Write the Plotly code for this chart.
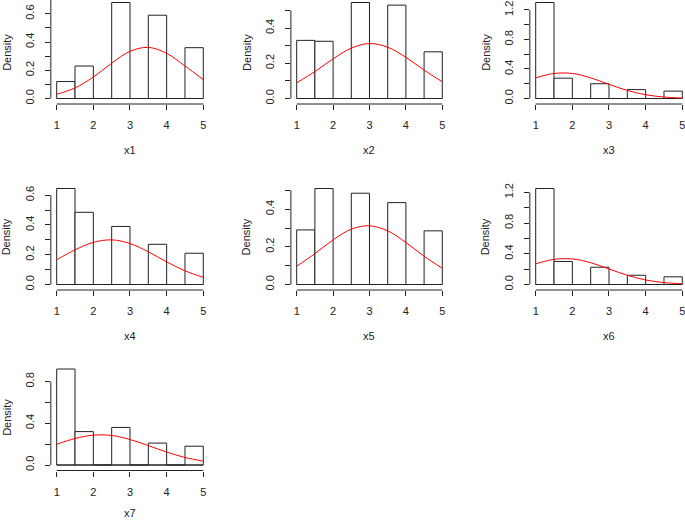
import plotly.graph_objects as go

# ---------------- data ----------------
bin_edges = [1.0, 1.5, 2.0, 2.5, 3.0, 3.5, 4.0, 4.5, 5.0]
curve_x = [1.0, 1.5, 2.0, 2.5, 3.0, 3.5, 4.0, 4.5, 5.0]
variables = ["x1", "x2", "x3", "x4", "x5", "x6", "x7"]

dens_x1 = [0.12, 0.23, 0.0, 0.68, 0.0, 0.59, 0.0, 0.36]
dens_x2 = [0.33, 0.325, 0.0, 0.545, 0.0, 0.53, 0.0, 0.265]
dens_x3 = [1.30, 0.275, 0.0, 0.20, 0.0, 0.12, 0.0, 0.10]
dens_x4 = [0.645, 0.485, 0.0, 0.39, 0.0, 0.27, 0.0, 0.21]
dens_x5 = [0.29, 0.51, 0.0, 0.485, 0.0, 0.435, 0.0, 0.285]
dens_x6 = [1.25, 0.30, 0.0, 0.225, 0.0, 0.12, 0.0, 0.10]
dens_x7 = [0.92, 0.32, 0.0, 0.36, 0.0, 0.21, 0.0, 0.18]

curve_x1 = [0.030, 0.075, 0.152, 0.250, 0.334, 0.362, 0.320, 0.230, 0.134]
curve_x2 = [0.089, 0.153, 0.225, 0.286, 0.312, 0.291, 0.234, 0.161, 0.095]
curve_x3 = [0.280, 0.339, 0.339, 0.280, 0.192, 0.109, 0.051, 0.020, 0.006]
curve_x4 = [0.166, 0.233, 0.283, 0.300, 0.275, 0.220, 0.152, 0.092, 0.048]
curve_x5 = [0.097, 0.164, 0.237, 0.294, 0.312, 0.285, 0.223, 0.150, 0.086]
curve_x6 = [0.269, 0.327, 0.333, 0.284, 0.202, 0.120, 0.059, 0.025, 0.009]
curve_x7 = [0.198, 0.254, 0.286, 0.283, 0.244, 0.186, 0.124, 0.072, 0.037]

xtick_vals = [1, 2, 3, 4, 5]
xtick_text = ["1", "2", "3", "4", "5"]

yt_x1 = [0.0, 0.1, 0.2, 0.3, 0.4, 0.5, 0.6, 0.7]
yl_x1 = ["0.0", "", "0.2", "", "0.4", "", "0.6", ""]
yt_x2 = [0.0, 0.1, 0.2, 0.3, 0.4, 0.5]
yl_x2 = ["0.0", "", "0.2", "", "0.4", ""]
yt_x3 = [0.0, 0.2, 0.4, 0.6, 0.8, 1.0, 1.2]
yl_x3 = ["0.0", "", "0.4", "", "0.8", "", "1.2"]
yt_x4 = [0.0, 0.1, 0.2, 0.3, 0.4, 0.5, 0.6]
yl_x4 = ["0.0", "", "0.2", "", "0.4", "", "0.6"]
yt_x5 = [0.0, 0.1, 0.2, 0.3, 0.4, 0.5]
yl_x5 = ["0.0", "", "0.2", "", "0.4", ""]
yt_x6 = [0.0, 0.2, 0.4, 0.6, 0.8, 1.0, 1.2]
yl_x6 = ["0.0", "", "0.4", "", "0.8", "", "1.2"]
yt_x7 = [0.0, 0.2, 0.4, 0.6, 0.8]
yl_x7 = ["0.0", "", "0.4", "", "0.8"]

densities = [dens_x1, dens_x2, dens_x3, dens_x4, dens_x5, dens_x6, dens_x7]
curves = [curve_x1, curve_x2, curve_x3, curve_x4, curve_x5, curve_x6, curve_x7]
yticks = [yt_x1, yt_x2, yt_x3, yt_x4, yt_x5, yt_x6, yt_x7]
ylabels = [yl_x1, yl_x2, yl_x3, yl_x4, yl_x5, yl_x6, yl_x7]

# ---------------- layout geometry (pixels) ----------------
W, H = 685, 520
col_px = [(56.7, 203.3), (296.7, 442.3), (535.7, 682.3)]   # pixel of x=1 and x=5
row_zero_px = [98.5, 284.5, 465.0]                         # pixel of y=0
BAR_PX = 96.0
PAD_PX = 5.5

FONT = "Liberation Sans, Arial, sans-serif"
INK = "#222222"

centers = [(bin_edges[k] + bin_edges[k + 1]) / 2 for k in range(len(bin_edges) - 1)]
width = bin_edges[1] - bin_edges[0]

fig = go.Figure()
layout = dict(
    width=W, height=H, margin=dict(l=0, r=0, t=0, b=0),
    paper_bgcolor="white", plot_bgcolor="white", showlegend=False,
    font=dict(family=FONT, size=11, color=INK),
)
shapes = []
annotations = []

for i, name in enumerate(variables):
    r, c = divmod(i, 3)
    n = "" if i == 0 else str(i + 1)
    xa, ya = "x" + n, "y" + n
    dens, curve = densities[i], curves[i]

    # x geometry
    x1p, x5p = col_px[c]
    xs = (x5p - x1p) / (bin_edges[-1] - bin_edges[0])
    left = x1p - 0.16 * xs
    right = x5p + 0.16 * xs
    xr0 = bin_edges[0] - (x1p - left) / xs
    xr1 = bin_edges[-1] + (right - x5p) / xs
    if right > W:
        xr1 = bin_edges[-1] + (W - x5p) / xs
        right = W

    # y geometry
    y0p = row_zero_px[r]
    ymax = max(dens)
    ys = BAR_PX / ymax
    bottom = y0p + PAD_PX
    top = max(0.0, y0p - BAR_PX - PAD_PX)
    yr0 = -PAD_PX / ys
    yr1 = (y0p - top) / ys

    fig.add_trace(go.Bar(
        x=centers, y=dens, width=width, xaxis=xa, yaxis=ya,
        marker=dict(color="white", line=dict(color=INK, width=1)),
        hoverinfo="skip",
    ))
    fig.add_trace(go.Scatter(
        x=[bin_edges[0], bin_edges[-1]], y=[0, 0], mode="lines",
        line=dict(color=INK, width=1), xaxis=xa, yaxis=ya, hoverinfo="skip",
    ))
    fig.add_trace(go.Scatter(
        x=curve_x, y=curve, mode="lines", line=dict(color="red", width=1, shape="spline"),
        xaxis=xa, yaxis=ya, hoverinfo="skip",
    ))

    layout["xaxis" + n] = dict(
        domain=[left / W, right / W], range=[xr0, xr1], anchor=ya,
        showgrid=False, zeroline=False, showline=False,
        ticks="outside", ticklen=5, tickwidth=1, tickcolor=INK,
        tickvals=xtick_vals, ticktext=xtick_text, ticklabelstandoff=6,
        ticklabeloverflow="allow",
        tickfont=dict(family=FONT, size=11, color=INK), fixedrange=True,
    )
    layout["yaxis" + n] = dict(
        domain=[1 - bottom / H, 1 - top / H], range=[yr0, yr1], anchor=xa,
        showgrid=False, zeroline=False, showline=False,
        ticks="outside", ticklen=5, tickwidth=1, tickcolor=INK,
        tickvals=yticks[i], ticktext=ylabels[i], tickangle=-90, ticklabelstandoff=6,
        ticklabeloverflow="allow",
        tickfont=dict(family=FONT, size=11, color=INK), fixedrange=True,
    )

    # R-style axis lines spanning first..last tick
    shapes.append(dict(type="line", xref=xa, yref=ya + " domain",
                       x0=xtick_vals[0], x1=xtick_vals[-1], y0=0, y1=0,
                       line=dict(color=INK, width=1)))
    shapes.append(dict(type="line", xref=xa + " domain", yref=ya,
                       x0=0, x1=0, y0=yticks[i][0], y1=yticks[i][-1],
                       line=dict(color=INK, width=1)))

    title_px = min(bottom + 46, H - 7)
    annotations.append(dict(text=name, xref=xa, yref="paper",
                            x=(xtick_vals[0] + xtick_vals[-1]) / 2, y=1 - title_px / H,
                            showarrow=False, xanchor="center", yanchor="middle",
                            font=dict(family=FONT, size=11, color=INK)))
    annotations.append(dict(text="Density", xref="paper", yref="paper",
                            x=(left - 44) / W, y=1 - ((top + bottom) / 2) / H,
                            textangle=-90, showarrow=False, xanchor="center", yanchor="middle",
                            font=dict(family=FONT, size=11, color=INK)))

layout["shapes"] = shapes
layout["annotations"] = annotations
fig.update_layout(**layout)
fig.write_html(
    "out.html",
    config={"displayModeBar": False},
    post_script="document.body.style.margin='0';document.body.style.overflow='hidden';",
)
